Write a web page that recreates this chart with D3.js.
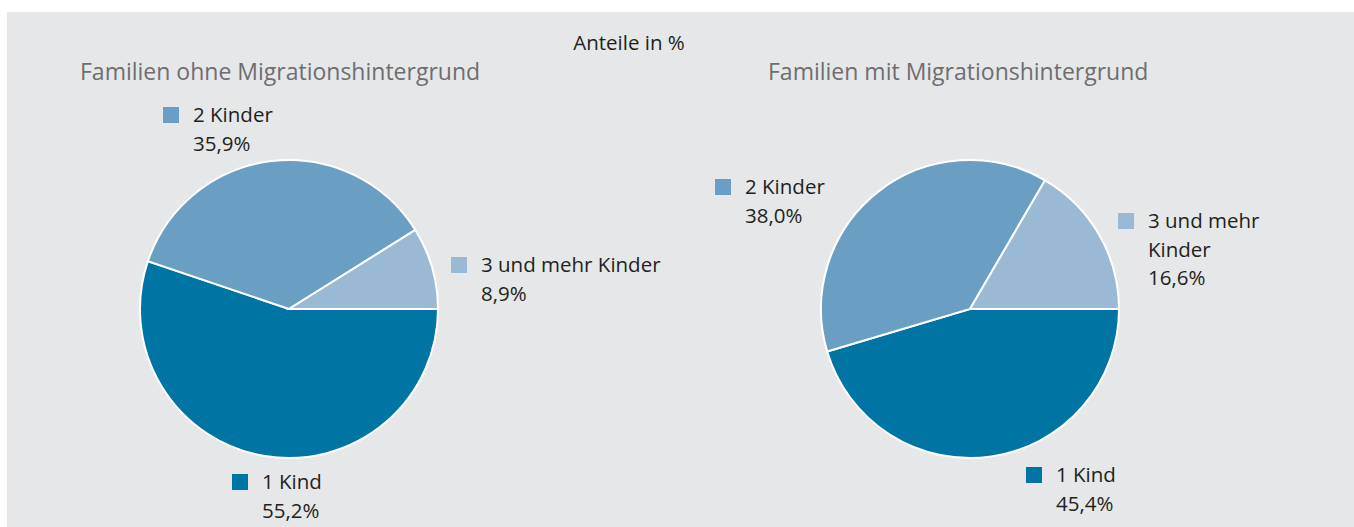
<!DOCTYPE html>
<html lang="de">
  <head>
    <meta charset="UTF-8" />
    <title>Familien nach Kinderzahl</title>
    <script src="https://d3js.org/d3.v7.min.js"></script>
    <style>
      body {
        margin: 0;
        background: #ffffff;
      }
      svg text {
        font-family: "Open Sans", "Noto Sans", sans-serif;
      }
    </style>
  </head>
  <body>
    <div id="chart"></div>
    <script>
      // data
      const categories = ["1 Kind", "2 Kinder", "3 und mehr Kinder"];
      const ohneMigration = [55.2, 35.9, 8.9];
      const mitMigration = [45.4, 38.0, 16.6];
      const titles = [
        "Familien ohne Migrationshintergrund",
        "Familien mit Migrationshintergrund",
      ];
      const colors = ["#0075a4", "#6a9ec3", "#9ab9d5"];

      const width = 1354;
      const height = 527;

      const svg = d3
        .select("#chart")
        .append("svg")
        .attr("width", width)
        .attr("height", height);

      // grey panel
      svg
        .append("rect")
        .attr("x", 7)
        .attr("y", 12)
        .attr("width", width - 7)
        .attr("height", height - 12)
        .attr("fill", "#e6e7e8");

      svg
        .append("text")
        .attr("x", 629)
        .attr("y", 50)
        .attr("text-anchor", "middle")
        .attr("font-size", 20.5)
        .attr("fill", "#231f20")
        .text("Anteile in %");

      const radius = 149;
      const pie = d3
        .pie()
        .sort(null)
        .startAngle(Math.PI / 2)
        .endAngle(Math.PI / 2 + 2 * Math.PI);
      const arc = d3.arc().innerRadius(0).outerRadius(radius);

      // label placement per pie (square top-left, lines of text)
      const panels = [
        {
          values: ohneMigration,
          title: titles[0],
          cx: 289,
          titleX: 80,
          labels: [
            { x: 232, y: 474, lines: [categories[0]] },
            { x: 163, y: 107, lines: [categories[1]] },
            { x: 451, y: 257, lines: [categories[2]] },
          ],
        },
        {
          values: mitMigration,
          title: titles[1],
          cx: 970,
          titleX: 768,
          labels: [
            { x: 1026, y: 467, lines: [categories[0]] },
            { x: 715, y: 179, lines: [categories[1]] },
            { x: 1118, y: 213, lines: ["3 und mehr", "Kinder"] },
          ],
        },
      ];

      const fmt = (v) => v.toFixed(1).replace(".", ",") + "%";
      const cy = 309;
      const lineH = 28.5;

      panels.forEach((p) => {
        svg
          .append("text")
          .attr("x", p.titleX)
          .attr("y", 80)
          .attr("font-size", 23)
          .attr("fill", "#6d6e71")
          .text(p.title);

        const g = svg
          .append("g")
          .attr("transform", `translate(${p.cx},${cy})`);

        g.selectAll("path")
          .data(pie(p.values))
          .enter()
          .append("path")
          .attr("d", arc)
          .attr("fill", (d, i) => colors[i])
          .attr("stroke", "#ffffff")
          .attr("stroke-width", 2);

        p.labels.forEach((l, i) => {
          svg
            .append("rect")
            .attr("x", l.x)
            .attr("y", l.y)
            .attr("width", 16)
            .attr("height", 16)
            .attr("fill", colors[i]);

          const t = svg
            .append("text")
            .attr("x", l.x + 30)
            .attr("y", l.y + 15)
            .attr("font-size", 20.5)
            .attr("fill", "#231f20");
          const lines = l.lines.concat([fmt(p.values[i])]);
          lines.forEach((s, k) => {
            t.append("tspan")
              .attr("x", l.x + 30)
              .attr("dy", k === 0 ? 0 : lineH)
              .text(s);
          });
        });
      });
    </script>
  </body>
</html>
